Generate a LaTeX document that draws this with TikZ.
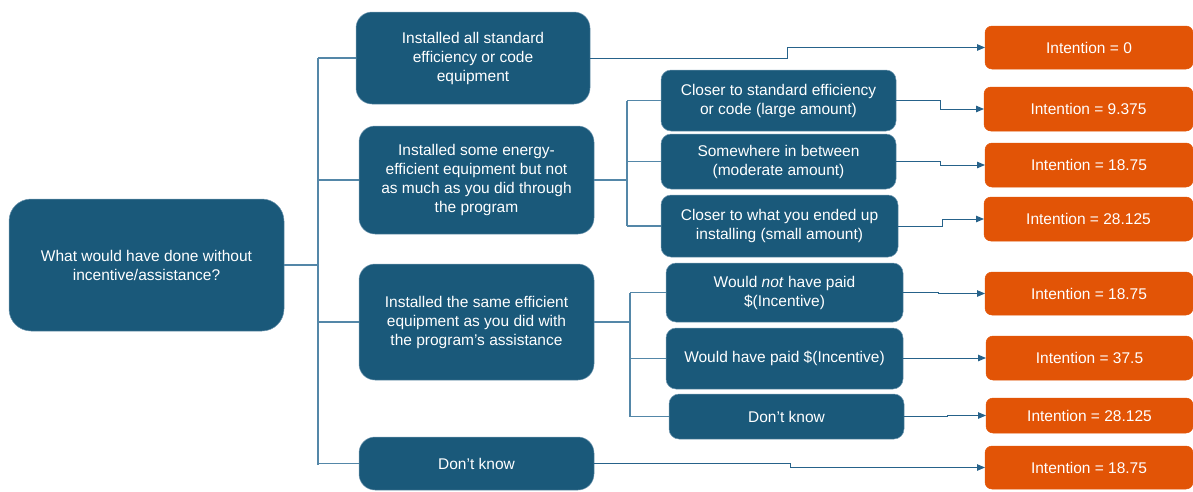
\documentclass[tikz,border=0pt]{standalone}
\usepackage{fontspec}
\setmainfont{Liberation Sans}
\usetikzlibrary{arrows.meta}
\definecolor{boxblue}{RGB}{26,89,122}
\definecolor{boxedge}{RGB}{110,150,175}
\definecolor{boxorange}{RGB}{226,84,6}
\definecolor{linkblue}{RGB}{84,135,168}
\definecolor{arrowblue}{RGB}{38,98,138}
\begin{document}
\begin{tikzpicture}[x=1pt,y=-1pt,
  basebox/.style={text=white, align=center, inner sep=0pt, outer sep=0pt,
    font=\fontsize{15.5}{19}\selectfont},
  bluebox/.style={basebox, fill=boxblue, draw=boxedge, line width=0.5pt},
  rootbox/.style={bluebox, rounded corners=22pt},
  firstbox/.style={bluebox, rounded corners=16pt},
  secondbox/.style={bluebox, rounded corners=10pt},
  resultbox/.style={basebox, fill=boxorange, draw=boxorange, line width=0.5pt, rounded corners=7pt},
  link/.style={draw=linkblue, line width=1.2pt},
  arrowlink/.style={draw=arrowblue, line width=1pt, -{Triangle[length=8pt,width=6.5pt]}}
]
\useasboundingbox (0,0) rectangle (1193,491);

% root
\node[rootbox, minimum width=275pt, minimum height=132pt] (root) at (146.5,265)
  {What would have done without\\incentive/assistance?};

% first level
\node[firstbox, minimum width=234pt, minimum height=92pt] (a1) at (473,58)
  {Installed all standard\\efficiency or code\\equipment};
\node[firstbox, minimum width=235pt, minimum height=108pt] (a2) at (476.5,180)
  {Installed some energy-\\efficient equipment but not\\as much as you did through\\the program};
\node[firstbox, minimum width=235pt, minimum height=116pt] (a3) at (476.5,322)
  {Installed the same efficient\\equipment as you did with\\the program’s assistance};
\node[firstbox, minimum width=235pt, minimum height=53pt] (a4) at (476.5,463.5)
  {Don’t know};

% second level
\node[secondbox, minimum width=235pt, minimum height=61pt] (b1) at (778.5,100.5)
  {Closer to standard efficiency\\or code (large amount)};
\node[secondbox, minimum width=235pt, minimum height=55pt] (b2) at (778.5,161.5)
  {Somewhere in between\\(moderate amount)};
\node[secondbox, minimum width=237pt, minimum height=62pt] (b3) at (779.5,226)
  {Closer to what you ended up\\installing (small amount)};
\node[secondbox, minimum width=237pt, minimum height=59pt] (c1) at (784.5,292.5)
  {Would \textit{not} have paid\\\$(Incentive)};
\node[secondbox, minimum width=237pt, minimum height=61pt] (c2) at (784.5,358.5)
  {Would have paid \$(Incentive)};
\node[secondbox, minimum width=235pt, minimum height=45pt] (c3) at (786.5,416.5)
  {Don’t know};

% results
\node[resultbox, minimum width=208pt, minimum height=43pt] (o1) at (1089,47.5) {Intention = 0};
\node[resultbox, minimum width=209pt, minimum height=44pt] (o2) at (1088.5,109) {Intention = 9.375};
\node[resultbox, minimum width=208pt, minimum height=44pt] (o3) at (1089,165) {Intention = 18.75};
\node[resultbox, minimum width=209pt, minimum height=44pt] (o4) at (1088.5,219) {Intention = 28.125};
\node[resultbox, minimum width=208pt, minimum height=43pt] (o5) at (1089,293.5) {Intention = 18.75};
\node[resultbox, minimum width=207pt, minimum height=44pt] (o6) at (1089.5,358) {Intention = 37.5};
\node[resultbox, minimum width=207pt, minimum height=35pt] (o7) at (1089.5,415.5) {Intention = 28.125};
\node[resultbox, minimum width=208pt, minimum height=43pt] (o8) at (1089,467.5) {Intention = 18.75};

% trunk coordinates
\coordinate (ta) at (318,58);
\coordinate (tb) at (318,465);
\coordinate (tc) at (627,100.5);
\coordinate (td) at (627,226);
\coordinate (te) at (630,292.5);
\coordinate (tf) at (630,416.5);

% main trunk
\draw[link] (ta) -- (tb);
\draw[link] (root.east) -- (root.east -| ta);
\draw[link] (ta) -- (a1.west);
\draw[link] (a2.west -| ta) -- (a2.west);
\draw[link] (a3.west -| ta) -- (a3.west);
\draw[link] (a4.west -| ta) -- (a4.west);

% second trunk
\draw[link] (tc) -- (td);
\draw[link] (a2.east) -- (a2.east -| tc);
\draw[link] (tc) -- (b1.west);
\draw[link] (b2.west -| tc) -- (b2.west);
\draw[link] (td) -- (b3.west);

% third trunk
\draw[link] (te) -- (tf);
\draw[link] (a3.east) -- (a3.east -| te);
\draw[link] (te) -- (c1.west);
\draw[link] (c2.west -| te) -- (c2.west);
\draw[link] (tf) -- (c3.west);

% jog coordinates
\coordinate (j1) at (787,0);
\coordinate (j2) at (940,0);
\coordinate (j3) at (942,0);
\coordinate (j4) at (938,0);
\coordinate (j5) at (945,0);
\coordinate (j6) at (947,0);
\coordinate (j7) at (790,0);

% arrows to results
\draw[arrowlink] (a1.east) -- (a1.east -| j1) |- (o1.west);
\draw[arrowlink] (b1.east) -- (b1.east -| j2) |- (o2.west);
\draw[arrowlink] (b2.east) -- (b2.east -| j2) |- (o3.west);
\draw[arrowlink] (b3.east) -- (b3.east -| j3) |- (o4.west);
\draw[arrowlink] (c1.east) -- (c1.east -| j4) |- (o5.west);
\draw[arrowlink] (c2.east) -- (c2.east -| j5) |- (o6.west);
\draw[arrowlink] (c3.east) -- (c3.east -| j6) |- (o7.west);
\draw[arrowlink] (a4.east) -- (a4.east -| j7) |- (o8.west);
\end{tikzpicture}
\end{document}
